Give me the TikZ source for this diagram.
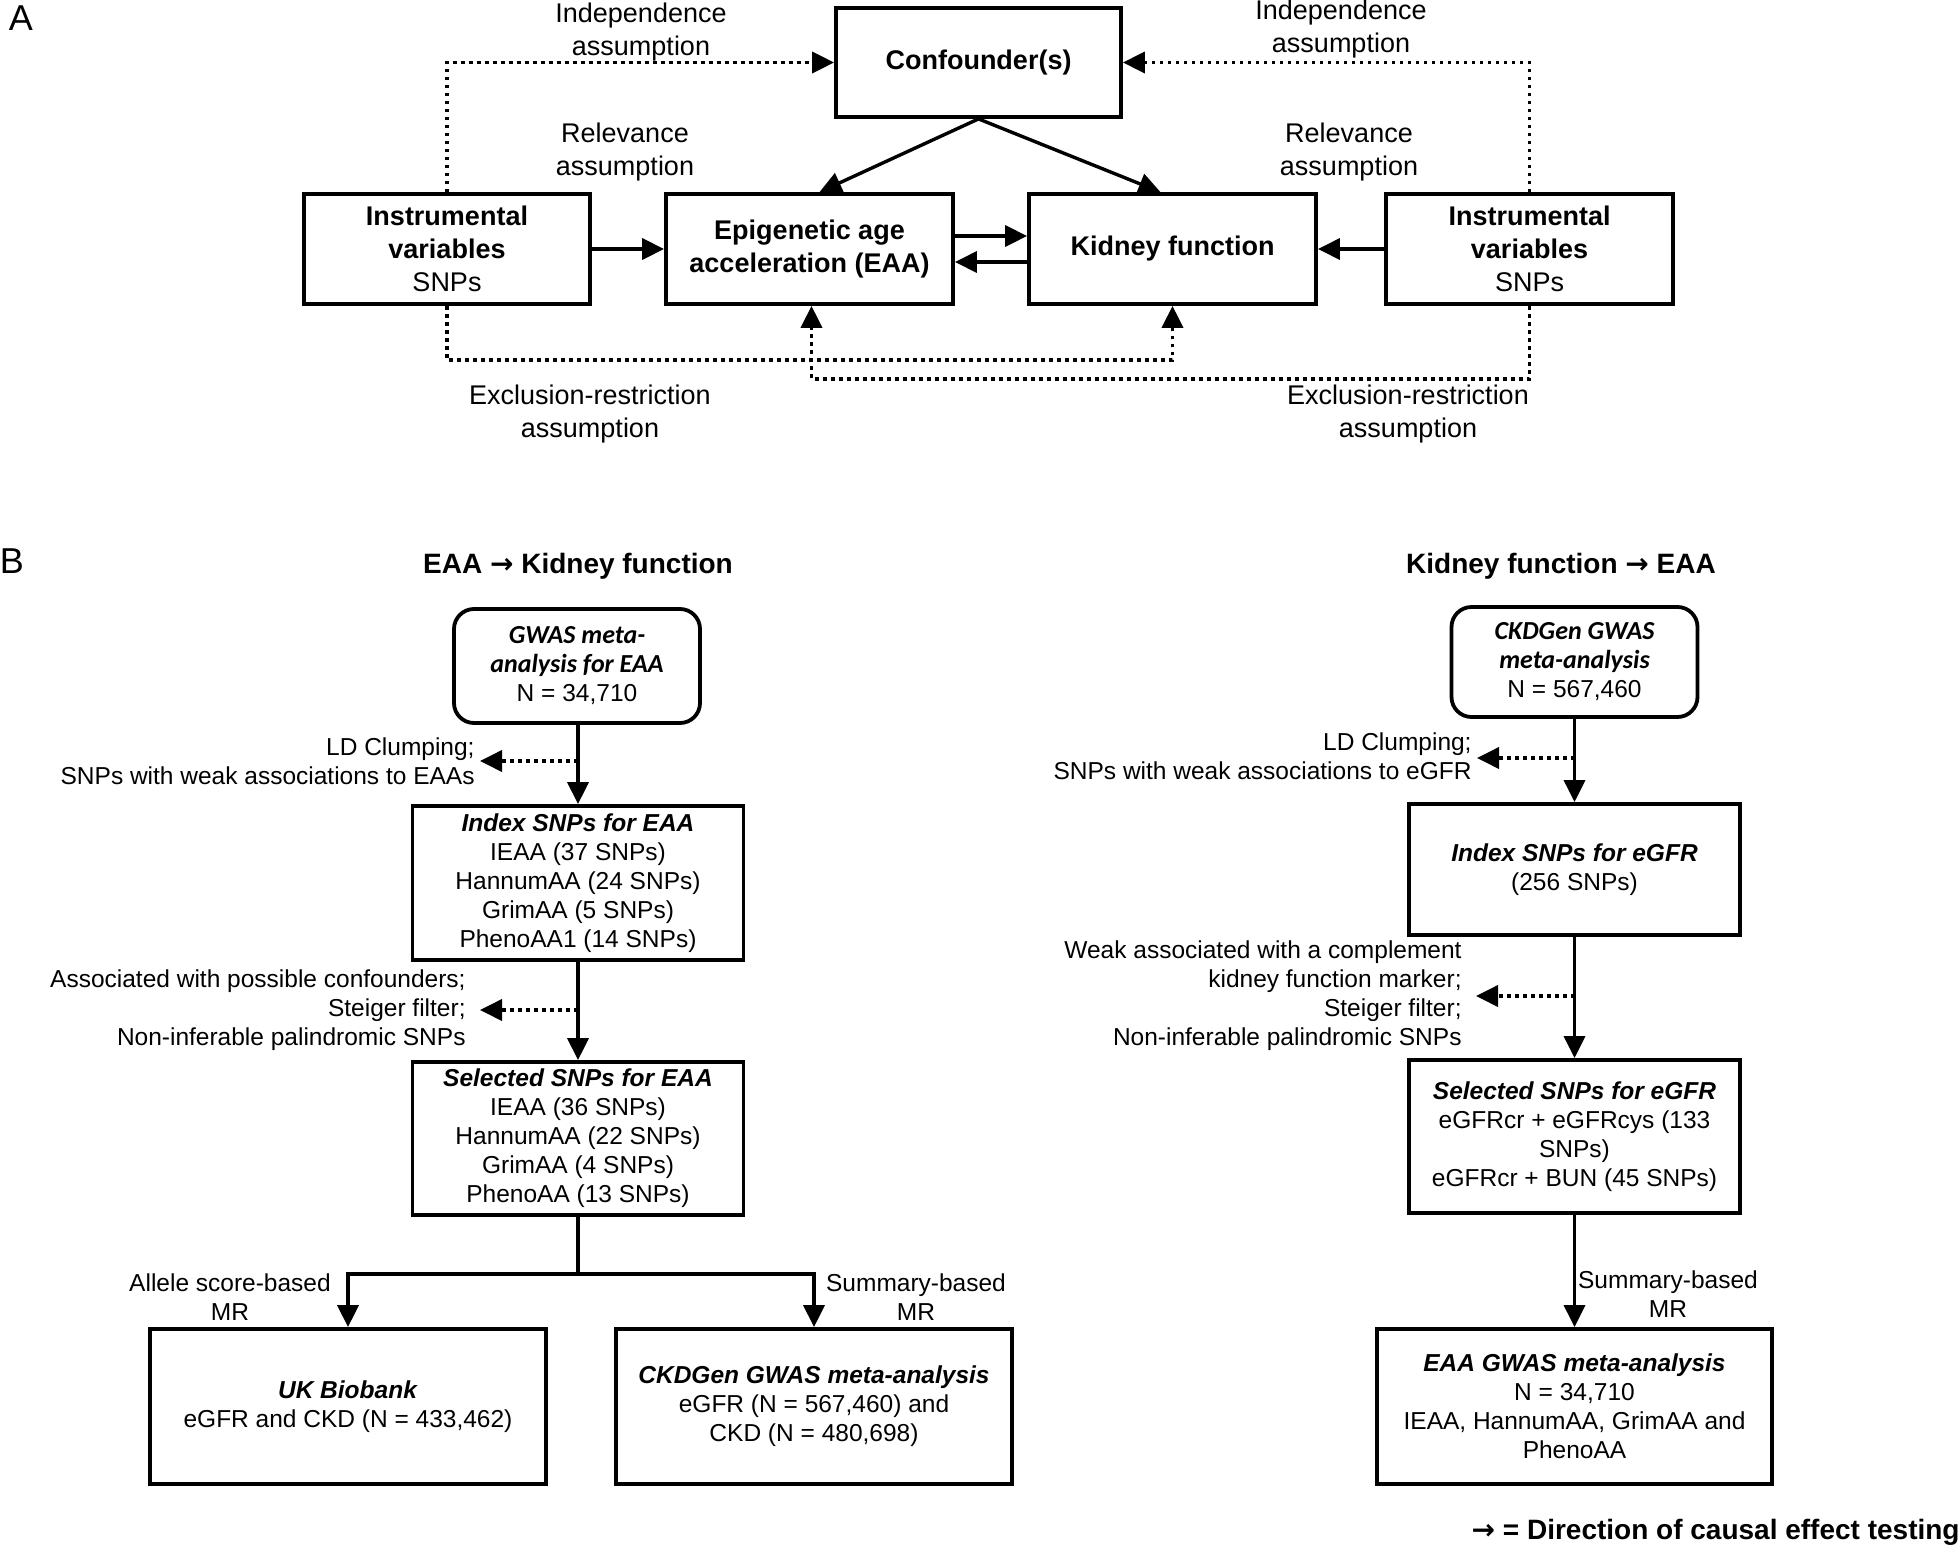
\documentclass[tikz,border=0pt]{standalone}
\usepackage{fontspec}
\setmainfont{Liberation Sans}
\newfontfamily\carl{Carlito}
\newfontfamily\djv{DejaVu Sans}
\usetikzlibrary{arrows.meta,calc}
\newcommand\cbi[1]{{\carl\bfseries\itshape\fontsize{13}{14.5}\selectfont #1}}
\newcommand\bi[1]{\textbf{\textit{#1}}}
\newcommand\rarr{{\djv\bfseries →}}
\begin{document}
\begin{tikzpicture}[x=0.5pt,y=-0.5pt,
  fa/.style={font=\fontsize{13.5}{16.5}\selectfont},
  fb/.style={font=\fontsize{12.25}{14.5}\selectfont},
  fh/.style={font=\fontsize{14}{16}\selectfont\bfseries},
  abox/.style={draw,line width=1.9pt,inner sep=0pt,align=center,fa},
  bbox/.style={draw,line width=1.9pt,inner sep=0pt,align=center,fb},
  arr/.style={line width=1.7pt,-{Triangle[length=11pt,width=10.5pt]}},
  dotarr/.style={line width=1.9pt,dash pattern=on 1.8pt off 2.2pt,-{Triangle[length=11pt,width=10.5pt]}},
  lbl/.style={align=center,inner sep=0pt,fa},
  lblb/.style={align=center,inner sep=0pt,fb},
  lblr/.style={align=right,inner sep=0pt,fb,anchor=east},
]
\useasboundingbox (0,0) rectangle (1960,1547);

% ---------------- Panel A ----------------
\node[inner sep=0pt,font=\fontsize{18}{20}\selectfont] (la) at (21,18) {A};

\node[abox,minimum width=142.5pt,minimum height=54.5pt] (conf) at (978.5,62.5) {\textbf{Confounder(s)}};
\node[abox,minimum width=143pt,minimum height=55pt] (ivl) at (447,249) {\textbf{Instrumental}\\\textbf{variables}\\SNPs};
\node[abox,minimum width=143.5pt,minimum height=55pt] (eaa) at (809.5,249) {\textbf{Epigenetic age}\\\textbf{acceleration (EAA)}};
\node[abox,minimum width=143.5pt,minimum height=55pt] (kid) at (1172.5,249) {\textbf{Kidney function}};
\node[abox,minimum width=143.5pt,minimum height=55pt] (ivr) at (1529.5,249) {\textbf{Instrumental}\\\textbf{variables}\\SNPs};

\draw[arr] (ivl.east) -- (eaa.west);
\draw[arr] (ivr.west) -- (kid.east);
\draw[arr] (eaa.east |- 0,236) -- (kid.west |- 0,236);
\draw[arr] (kid.west |- 0,262) -- (eaa.east |- 0,262);
\draw[arr] (conf.south) -- ($(eaa.north)+(10,0)$);
\draw[arr] (conf.south) -- ($(kid.north)+(-12,0)$);

\draw[dotarr] (ivl.north) |- (conf.west);
\draw[dotarr] (ivr.north) |- (conf.east);
\draw[dotarr] (ivl.south) -- ++(0,54) -| (kid.south);
\draw[dotarr] (ivr.south) -- ++(0,73) -| ($(eaa.south)+(2,0)$);

\node[lbl] (ind1) at (641,32) {Independence\\assumption};
\node[lbl] (ind2) at (1341,29) {Independence\\assumption};
\node[lbl] (rel1) at (625,152) {Relevance\\assumption};
\node[lbl] (rel2) at (1349,152) {Relevance\\assumption};
\node[lbl] (exc1) at (590,414) {Exclusion-restriction\\assumption};
\node[lbl] (exc2) at (1408,414) {Exclusion-restriction\\assumption};

% ---------------- Panel B ----------------
\node[inner sep=0pt,font=\fontsize{18}{20}\selectfont] (lb) at (12,561) {B};
\node[fh,inner sep=0pt] (h1) at (578,566) {EAA \rarr{} Kidney function};
\node[fh,inner sep=0pt] (h2) at (1561,566) {Kidney function \rarr{} EAA};

% left column
\node[bbox,rounded corners=10pt,minimum width=123pt,minimum height=57pt] (g1) at (577,666) {\cbi{GWAS meta-}\\\cbi{analysis for EAA}\\N = 34,710};
\node[bbox,minimum width=165.5pt,minimum height=77pt] (i1) at (578,883) {\bi{Index SNPs for EAA}\\IEAA (37 SNPs)\\HannumAA (24 SNPs)\\GrimAA (5 SNPs)\\PhenoAA1 (14 SNPs)};
\node[bbox,minimum width=165.5pt,minimum height=76.5pt] (s1) at (578,1138.5) {\bi{Selected SNPs for EAA}\\IEAA (36 SNPs)\\HannumAA (22 SNPs)\\GrimAA (4 SNPs)\\PhenoAA (13 SNPs)};
\node[bbox,minimum width=198pt,minimum height=77.5pt] (uk) at (348,1406.5) {\bi{UK Biobank}\\eGFR and CKD (N = 433,462)};
\node[bbox,minimum width=198pt,minimum height=77.5pt] (ck) at (814,1406.5) {\bi{CKDGen GWAS meta-analysis}\\eGFR (N = 567,460) and\\CKD (N = 480,698)};

\draw[arr] (g1.south -| i1.north) -- (i1.north);
\draw[arr] (i1.south) -- (s1.north);
\draw[arr] (s1.south) -- ++(0,57) -| (uk.north);
\draw[arr] (s1.south) -- ++(0,57) -| (ck.north);

\node[lblr] (f1) at (475,761) {LD Clumping;\\SNPs with weak associations to EAAs};
\coordinate (f1a) at (480,761);
\draw[dotarr] (i1.north |- f1a) -- (f1a);
\node[lblr] (f2) at (466,1010) {Associated with possible confounders;\\Steiger filter;\\Non-inferable palindromic SNPs};
\coordinate (f2a) at (480,1010);
\draw[dotarr] (i1.north |- f2a) -- (f2a);

\node[lblb] (m1) at (230,1297) {Allele score-based\\MR};
\node[lblb] (m2) at (916,1297) {Summary-based\\MR};

% right column
\node[bbox,rounded corners=10pt,minimum width=123pt,minimum height=55pt] (g2) at (1574.5,662) {\cbi{CKDGen GWAS}\\\cbi{meta-analysis}\\N = 567,460};
\node[bbox,minimum width=165.5pt,minimum height=65.5pt] (i2) at (1574.5,869.5) {\bi{Index SNPs for eGFR}\\(256 SNPs)};
\node[bbox,minimum width=165.5pt,minimum height=76.5pt] (s2) at (1574.5,1136.5) {\bi{Selected SNPs for eGFR}\\eGFRcr + eGFRcys (133\\SNPs)\\eGFRcr + BUN (45 SNPs)};
\node[bbox,minimum width=197.5pt,minimum height=77.5pt] (e2) at (1574.5,1406.5) {\bi{EAA GWAS meta-analysis}\\N = 34,710\\IEAA, HannumAA, GrimAA and\\PhenoAA};

\draw[arr] (g2.south) -- (i2.north);
\draw[arr] (i2.south) -- (s2.north);
\draw[arr] (s2.south) -- (e2.north);

\node[lblr] (f3) at (1472,756) {LD Clumping;\\SNPs with weak associations to eGFR};
\coordinate (f3a) at (1477,758);
\draw[dotarr] (i2.north |- f3a) -- (f3a);
\node[lblr] (f4) at (1462,996) {Weak associated with a complement\\kidney function marker;\\Steiger filter;\\Non-inferable palindromic SNPs};
\coordinate (f4a) at (1476,996);
\draw[dotarr] (i2.north |- f4a) -- (f4a);

\node[lblb] (m3) at (1668,1294) {Summary-based\\MR};

\node[fh,inner sep=0pt,anchor=east] (leg) at (1960,1532) {\rarr{} = Direction of causal effect testing};
\end{tikzpicture}
\end{document}
